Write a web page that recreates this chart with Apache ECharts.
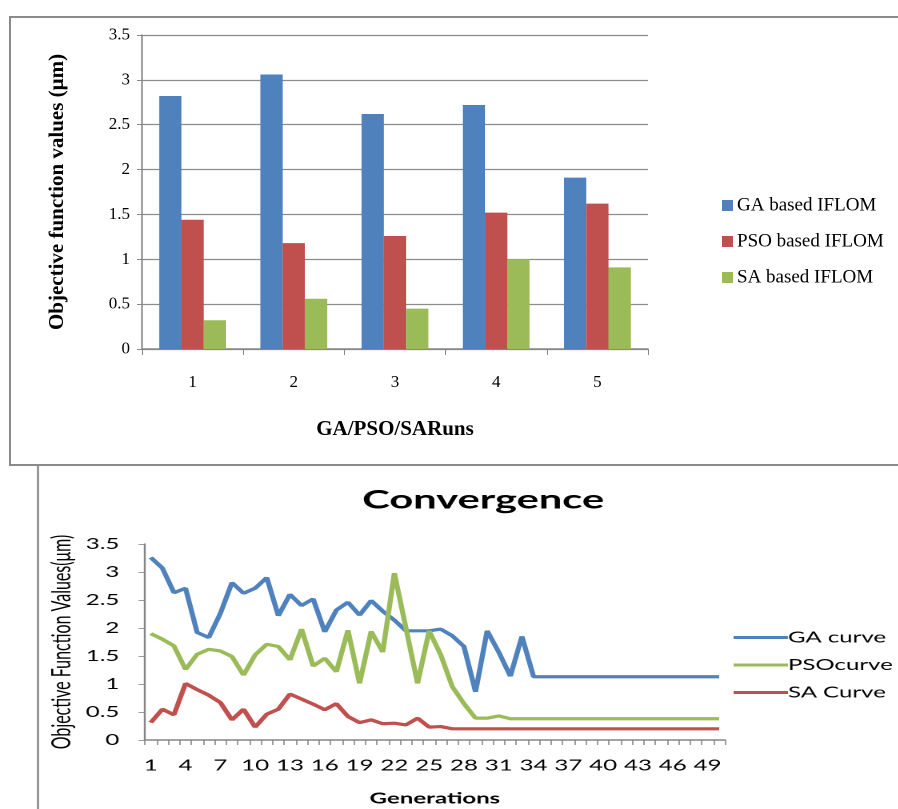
<!DOCTYPE html>
<html>
<head>
<meta charset="utf-8">
<script src="https://cdn.jsdelivr.net/npm/echarts@6/dist/echarts.min.js"></script>
<style>
html,body{margin:0;padding:0;background:#fff;}
#wrap{position:relative;width:898px;height:809px;overflow:hidden;background:#fff;}
#bar{position:absolute;left:0;top:0;width:898px;height:470px;}
#conv{position:absolute;left:0;top:465px;width:562px;height:344px;
      transform:scaleX(1.6);transform-origin:0 0;}
</style>
</head>
<body>
<div id="wrap"><div id="bar"></div><div id="conv"></div></div>
<script>
// ---- Bar chart data ----
const runs = ['1','2','3','4','5'];
const gaRuns = [2.82, 3.06, 2.62, 2.72, 1.91];
const psoRuns = [1.44, 1.18, 1.26, 1.52, 1.62];
const saRuns = [0.32, 0.56, 0.45, 1.00, 0.91];
const barNames = ['GA based IFLOM', 'PSO based IFLOM', 'SA based IFLOM'];
const valueTicks = {min: 0, max: 3.5, interval: 0.5};

// ---- Convergence data ----
const generations = Array.from({length: 50}, (_, i) => String(i + 1));
const gaCurve = [3.26, 3.07, 2.63, 2.71, 1.92, 1.83, 2.26, 2.81, 2.62, 2.71,
                 2.90, 2.22, 2.60, 2.40, 2.52, 1.93, 2.32, 2.46, 2.23, 2.49,
                 2.30, 2.14, 1.95, 1.95, 1.95, 1.98, 1.86, 1.67, 0.86, 1.95,
                 1.57, 1.14, 1.85, 1.13, 1.13, 1.13, 1.13, 1.13, 1.13, 1.13,
                 1.13, 1.13, 1.13, 1.13, 1.13, 1.13, 1.13, 1.13, 1.13, 1.13];
const psoCurve = [1.90, 1.80, 1.68, 1.26, 1.53, 1.62, 1.59, 1.49, 1.16, 1.52,
                  1.71, 1.67, 1.43, 1.98, 1.32, 1.46, 1.22, 1.96, 1.01, 1.94,
                  1.57, 2.98, 2.00, 1.01, 1.95, 1.52, 0.95, 0.65, 0.39, 0.39,
                  0.43, 0.38, 0.38, 0.38, 0.38, 0.38, 0.38, 0.38, 0.38, 0.38,
                  0.38, 0.38, 0.38, 0.38, 0.38, 0.38, 0.38, 0.38, 0.38, 0.38];
const saCurve = [0.31, 0.55, 0.45, 1.01, 0.90, 0.80, 0.67, 0.36, 0.55, 0.23,
                 0.46, 0.55, 0.82, 0.73, 0.64, 0.54, 0.65, 0.42, 0.31, 0.36,
                 0.29, 0.30, 0.27, 0.39, 0.23, 0.24, 0.20, 0.20, 0.20, 0.20,
                 0.20, 0.20, 0.20, 0.20, 0.20, 0.20, 0.20, 0.20, 0.20, 0.20,
                 0.20, 0.20, 0.20, 0.20, 0.20, 0.20, 0.20, 0.20, 0.20, 0.20];
const lineNames = ['GA curve', 'PSOcurve', 'SA Curve'];

const blue = '#4F81BD', red = '#C0504D', green = '#9BBB59';
const serif = 'Liberation Serif';
const sans = 'Lato';
const axisGray = '#868686';

// ---------- Top: bar chart ----------
const barChart = echarts.init(document.getElementById('bar'), null, {devicePixelRatio: 2});
barChart.setOption({
  animation: false,
  backgroundColor: '#fff',
  graphic: [
    {type: 'rect', shape: {x: 10, y: 17, width: 900, height: 448},
     style: {fill: 'none', stroke: '#8a8a8a', lineWidth: 2}, silent: true}
  ],
  legend: {
    data: barNames,
    orient: 'vertical', left: 717, top: 191,
    itemWidth: 11, itemHeight: 11, itemGap: 17,
    icon: 'rect',
    textStyle: {fontFamily: serif, fontSize: 19, color: '#000', padding: [0,0,0,-1]}
  },
  grid: {left: 142, top: 35, width: 506, height: 314},
  xAxis: {
    type: 'category', data: runs,
    axisLine: {lineStyle: {color: axisGray, width: 1.5}},
    axisTick: {show: true, length: 6, lineStyle: {color: axisGray}},
    axisLabel: {fontFamily: serif, fontSize: 17, color: '#000', margin: 25},
    name: 'GA/PSO/SARuns', nameLocation: 'middle', nameGap: 70,
    nameTextStyle: {fontFamily: serif, fontSize: 21, fontWeight: 'bold', color: '#000'}
  },
  yAxis: {
    type: 'value', min: valueTicks.min, max: valueTicks.max, interval: valueTicks.interval,
    axisLine: {show: true, lineStyle: {color: axisGray, width: 1.5}},
    axisTick: {show: true, length: 5, lineStyle: {color: axisGray}},
    splitLine: {lineStyle: {color: '#8c8c8c', width: 1.3}},
    axisLabel: {fontFamily: serif, fontSize: 17, color: '#000', margin: 12},
    name: 'Objective function values (μm)', nameLocation: 'middle', nameGap: 74,
    nameTextStyle: {fontFamily: serif, fontSize: 21, fontWeight: 'bold', color: '#000'}
  },
  series: [
    {name: barNames[0], type: 'bar', data: gaRuns,
     barWidth: '22%', barGap: '0%', itemStyle: {color: blue}},
    {name: barNames[1], type: 'bar', data: psoRuns,
     barWidth: '22%', barGap: '0%', itemStyle: {color: red}},
    {name: barNames[2], type: 'bar', data: saRuns,
     barWidth: '22%', barGap: '0%', itemStyle: {color: green}}
  ]
});

// ---------- Bottom: convergence line chart (horizontally stretched like the reference) ----------
const convChart = echarts.init(document.getElementById('conv'), null, {devicePixelRatio: 2});
convChart.setOption({
  animation: false,
  title: {
    text: 'Convergence',
    left: 297, top: 17, textAlign: 'center',
    textStyle: {fontFamily: sans, fontWeight: 'bold', fontSize: 26, color: '#000'}
  },
  graphic: [
    {type: 'line', shape: {x1: 23.75, y1: 0, x2: 23.75, y2: 344},
     style: {stroke: '#8a8a8a', lineWidth: 1.3}, silent: true}
  ],
  legend: {
    data: lineNames,
    orient: 'vertical', left: 452, top: 160,
    itemWidth: 34, itemHeight: 12, itemGap: 12.5,
    itemStyle: {opacity: 0},
    lineStyle: {width: 3},
    textStyle: {fontFamily: sans, fontSize: 15, color: '#000', padding: [0,0,0,-5]}
  },
  grid: {left: 90.6, top: 79, width: 362.5, height: 196, outerBoundsMode: 'none'},
  xAxis: {
    type: 'category', data: generations,
    axisLine: {lineStyle: {color: axisGray, width: 1.5}},
    axisTick: {show: true, interval: 0, length: 5, lineStyle: {color: axisGray, width: 0.8}},
    axisLabel: {interval: 2, fontFamily: sans, fontSize: 15, color: '#000', margin: 18},
    name: 'Generations', nameLocation: 'middle', nameGap: 51, nameMoveOverlap: false,
    nameTextStyle: {fontFamily: sans, fontSize: 15, fontWeight: 'bold', color: '#000'}
  },
  yAxis: {
    type: 'value', min: valueTicks.min, max: valueTicks.max, interval: valueTicks.interval,
    axisLine: {show: true, lineStyle: {color: axisGray, width: 1.2}},
    axisTick: {show: true, length: 4, lineStyle: {color: axisGray, width: 0.8}},
    splitLine: {show: false},
    axisLabel: {fontFamily: sans, fontSize: 15, color: '#000', margin: 16},
    name: 'Objective Function Values(μm)', nameLocation: 'middle', nameGap: 44, nameMoveOverlap: false,
    nameTextStyle: {fontFamily: sans, fontSize: 16, color: '#000'}
  },
  series: [
    {name: lineNames[0], type: 'line', data: gaCurve,
     symbol: 'none', lineStyle: {color: blue, width: 3.2}, itemStyle: {color: blue}},
    {name: lineNames[1], type: 'line', data: psoCurve,
     symbol: 'none', lineStyle: {color: green, width: 3.2}, itemStyle: {color: green}},
    {name: lineNames[2], type: 'line', data: saCurve,
     symbol: 'none', lineStyle: {color: red, width: 3.2}, itemStyle: {color: red}}
  ]
});
</script>
</body>
</html>
